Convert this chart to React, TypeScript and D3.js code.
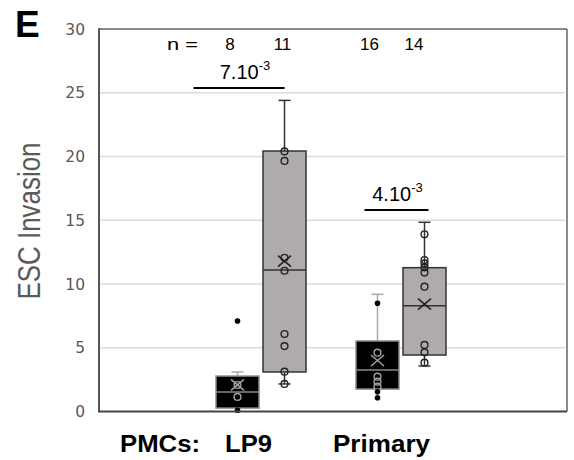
import React from "react";
import * as d3 from "d3";

// ---------- data ----------
const groups = ["LP9", "Primary"];
const seriesNames = ["PMC alone", "PMC + ESC"];
const boxGroup = ["LP9", "LP9", "Primary", "Primary"];
const boxSeries = ["PMC alone", "PMC + ESC", "PMC alone", "PMC + ESC"];
const nCounts = [8, 11, 16, 14];
const q1Values = [0.27, 3.1, 1.76, 4.43];
const medianValues = [1.53, 11.1, 3.25, 8.3];
const q3Values = [2.78, 20.43, 5.53, 11.28];
const whiskerLow = [0.27, 2.16, 1.76, 3.57];
const whiskerHigh = [3.1, 24.4, 9.19, 14.84];
const meanValues = [2.08, 11.8, 4.0, 8.43];
const pointValues = [
  [7.1, 2.08, 1.14, 0.1],
  [20.4, 19.65, 12.06, 11.04, 6.08, 5.13, 3.12, 2.16],
  [8.49, 4.61, 2.73, 2.34, 1.95, 1.55, 1.08],
  [13.9, 11.88, 11.62, 11.3, 10.9, 9.79, 5.22, 4.64, 3.83],
];
const yTicks = [0, 5, 10, 15, 20, 25, 30];
const pValueMantissa = ["7.10", "4.10"];
const pValueExponent = ["-3", "-3"];
const pValueLevel = [25.37, 15.8];
const pValuePairs = [[0, 1], [2, 3]];
const yTitle = "ESC Invasion";
const panelLabel = "E";
const axisPrefix = "PMCs:";

// ---------- layout ----------
const W = 574;
const H = 460;
const plotLeft = 99;
const plotRight = 567;
const plotTop = 29;
const plotBottom = 411.5;
const nLabelDx = [-7.5, -2, -8, -10.5];
const sigBarPad = [[44, 0], [13, 4]];
const sigTextDx = [6, 1];
const groupLabelDx = [-12.5, -19.5];
const groupLabelLen = [47, 97];

const darkFill = "#000000";
const lightFill = "#b0abab";

export default function App() {
  const y = d3.scaleLinear().domain([0, 30]).range([plotBottom, plotTop]);
  const xGroup = d3.scaleBand<string>().domain(groups).range([191, 471]);
  const xSeries = d3
    .scaleBand<string>()
    .domain(seriesNames)
    .range([25, 115])
    .paddingInner(4 / 47);
  const bw = xSeries.bandwidth();

  const boxX = (i: number) => (xGroup(boxGroup[i]) as number) + (xSeries(boxSeries[i]) as number);
  const boxC = (i: number) => boxX(i) + bw / 2;

  const font = "'Liberation Sans', Arial, sans-serif";

  return (
    <svg width={W} height={H} style={{ display: "block", position: "absolute", left: 0, top: 0 }}>
      <rect x={0} y={0} width={W} height={H} fill="#ffffff" />
      {/* gridlines */}
      {yTicks
        .filter((t) => t > 0 && t < 30)
        .map((t) => (
          <line key={t} x1={plotLeft} x2={plotRight - 2} y1={y(t)} y2={y(t)} stroke="#dcdcdc" strokeWidth={1.5} />
        ))}
      {/* frame */}
      <line x1={plotLeft} x2={plotRight} y1={plotTop} y2={plotTop} stroke="#666" strokeWidth={1.5} />
      <line x1={plotRight} x2={plotRight} y1={plotTop} y2={plotBottom} stroke="#666" strokeWidth={1.5} />
      <line x1={plotLeft} x2={plotLeft} y1={plotTop - 0.75} y2={plotBottom} stroke="#444" strokeWidth={1.8} />
      {/* tick labels */}
      {yTicks.map((t) => (
        <text
          key={t}
          x={85}
          y={y(t)}
          dy="0.36em"
          textAnchor="end"
          fontFamily="'DejaVu Sans', sans-serif"
          fontSize={15.5}
          fill="#595959"
        >
          {t}
        </text>
      ))}
      {/* boxes */}
      {boxSeries.map((s, i) => {
        const dark = s === seriesNames[0];
        const x0 = boxX(i);
        const c = boxC(i);
        const edge = dark ? "#8a8a8a" : "#333333";
        const whisk = dark ? "#a8a8a8" : "#333333";
        const capW = 12;
        return (
          <g key={i}>
            {whiskerHigh[i] > q3Values[i] && (
              <g>
                <line x1={c} x2={c} y1={y(q3Values[i])} y2={y(whiskerHigh[i])} stroke={whisk} strokeWidth={1.5} />
                <line x1={c - capW / 2} x2={c + capW / 2} y1={y(whiskerHigh[i])} y2={y(whiskerHigh[i])} stroke={whisk} strokeWidth={1.5} />
              </g>
            )}
            {whiskerLow[i] < q1Values[i] && (
              <g>
                <line x1={c} x2={c} y1={y(q1Values[i])} y2={y(whiskerLow[i])} stroke={whisk} strokeWidth={1.5} />
                <line x1={c - capW / 2} x2={c + capW / 2} y1={y(whiskerLow[i])} y2={y(whiskerLow[i])} stroke={whisk} strokeWidth={1.5} />
              </g>
            )}
            <rect
              x={x0}
              y={y(q3Values[i])}
              width={bw}
              height={y(q1Values[i]) - y(q3Values[i])}
              fill={dark ? darkFill : lightFill}
              stroke={edge}
              strokeWidth={1.5}
            />
            <line x1={x0} x2={x0 + bw} y1={y(medianValues[i])} y2={y(medianValues[i])} stroke={edge} strokeWidth={1.5} />
            {pointValues[i].map((v, k) => {
              const inside = v >= q1Values[i] && v <= q3Values[i];
              if (dark && !inside) {
                return <circle key={k} cx={c} cy={y(v)} r={2.8} fill="#000" />;
              }
              return (
                <circle
                  key={k}
                  cx={c}
                  cy={y(v)}
                  r={3.4}
                  fill="none"
                  stroke={dark ? "#a0a0a0" : "#222"}
                  strokeWidth={1.4}
                />
              );
            })}
            <path
              d={`M${c - 6.5},${y(meanValues[i]) - 5.5}L${c + 6.5},${y(meanValues[i]) + 5.5}M${c + 6.5},${y(meanValues[i]) - 5.5}L${c - 6.5},${y(meanValues[i]) + 5.5}`}
              stroke={dark ? "#a0a0a0" : "#222"}
              strokeWidth={1.6}
              fill="none"
            />
          </g>
        );
      })}
      {/* bottom axis */}
      <line x1={plotLeft - 1} x2={plotRight} y1={plotBottom} y2={plotBottom} stroke="#444" strokeWidth={2} />
      {/* n counts */}
      <text x={167} y={50} fontFamily={font} fontSize={17} fill="#000" textLength={31} lengthAdjust="spacingAndGlyphs">
        n =
      </text>
      {nCounts.map((n, i) => (
        <text key={i} x={boxC(i) + nLabelDx[i]} y={50} textAnchor="middle" fontFamily={font} fontSize={17} fill="#000">
          {n}
        </text>
      ))}
      {/* significance */}
      {pValuePairs.map(([a, b], k) => {
        const x1 = boxC(a) - sigBarPad[k][0];
        const x2 = boxC(b) + sigBarPad[k][1];
        const yy = y(pValueLevel[k]);
        return (
          <g key={k}>
            <line x1={x1} x2={x2} y1={yy} y2={yy} stroke="#000" strokeWidth={2} />
            <text
              x={(x1 + x2) / 2 + sigTextDx[k]}
              y={yy - 9}
              textAnchor="middle"
              fontFamily={font}
              fontSize={20}
              fill="#000"
            >
              {pValueMantissa[k]}
              <tspan fontSize={13} dy={-9}>
                {pValueExponent[k]}
              </tspan>
            </text>
          </g>
        );
      })}
      {/* panel label */}
      <text x={15} y={37} fontFamily={font} fontWeight="bold" fontSize={37} fill="#000">
        {panelLabel}
      </text>
      {/* y title */}
      <text
        transform="translate(40,221) rotate(-90)"
        textAnchor="middle"
        fontFamily="'Liberation Sans Narrow', 'Liberation Sans', Arial, sans-serif"
        fontSize={31}
        fill="#5a5a5a"
        textLength={157}
        lengthAdjust="spacingAndGlyphs"
      >
        {yTitle}
      </text>
      {/* group labels */}
      <text x={120} y={452} fontFamily={font} fontWeight="bold" fontSize={23} fill="#000" textLength={80} lengthAdjust="spacingAndGlyphs">
        {axisPrefix}
      </text>
      {groups.map((g, i) => {
        const cx = (xGroup(g) as number) + xGroup.bandwidth() / 2 + groupLabelDx[i];
        return (
          <text
            key={g}
            x={cx - groupLabelLen[i] / 2}
            y={452}
            fontFamily={font}
            fontWeight="bold"
            fontSize={23}
            fill="#000"
            textLength={groupLabelLen[i]}
            lengthAdjust="spacingAndGlyphs"
          >
            {g}
          </text>
        );
      })}
    </svg>
  );
}
